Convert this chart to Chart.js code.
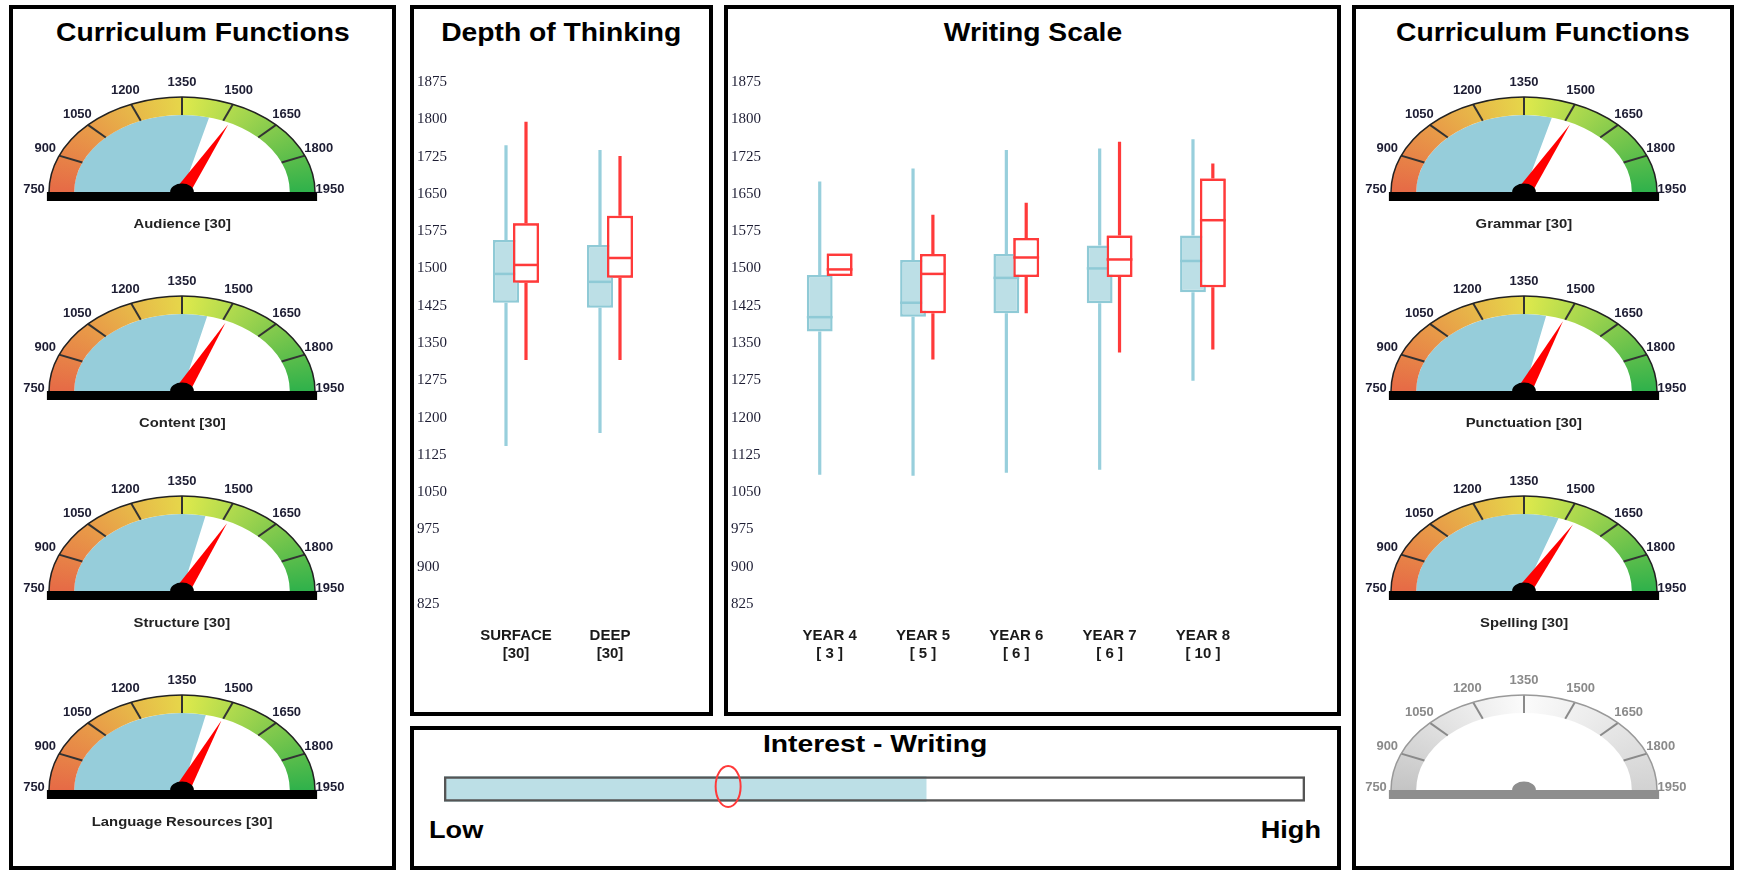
<!DOCTYPE html>
<html>
<head>
<meta charset="utf-8">
<script src="https://cdn.jsdelivr.net/npm/chart.js@4.4.1/dist/chart.umd.min.js"></script>
<style>
  body { margin: 0; background: #fff; width: 1738px; height: 872px; overflow: hidden; position: relative; font-family: 'Liberation Sans', Arial, sans-serif; }
  .panel { position: absolute; box-sizing: border-box; border: 4px solid #000; }
  .title { position: absolute; text-align: center; font-weight: bold; font-size: 25px; line-height: 30px; color: #000; white-space: nowrap; }
  .title span { display: inline-block; transform: scaleX(1.13); }
  .cap { position: absolute; width: 300px; text-align: center; font-weight: bold; font-size: 13.5px; line-height: 16px; color: #222; white-space: nowrap; }
  .cap span { display: inline-block; transform: scaleX(1.1); }
  .box { position: absolute; }
  .gauge { position: absolute; width: 340px; height: 145px; }
  .lowhigh { position: absolute; font-weight: bold; font-size: 24px; line-height: 28px; color: #000; }
</style>
</head>
<body>
<div class="panel" style="left:9px;top:5px;width:387px;height:865px"></div>
<div class="panel" style="left:410px;top:5px;width:303px;height:711px"></div>
<div class="panel" style="left:724px;top:5px;width:617px;height:711px"></div>
<div class="panel" style="left:410px;top:726px;width:931px;height:144px"></div>
<div class="panel" style="left:1352px;top:5px;width:382px;height:865px"></div>

<div class="title" style="left:9px;width:387px;top:17px"><span>Curriculum Functions</span></div>
<div class="title" style="left:410px;width:303px;top:17px"><span>Depth of Thinking</span></div>
<div class="title" style="left:724px;width:617px;top:17px"><span>Writing Scale</span></div>
<div class="title" style="left:1352px;width:382px;top:17px"><span>Curriculum Functions</span></div>
<div class="title" style="left:410px;width:931px;top:729px;font-size:24px"><span style="transform:scaleX(1.18)">Interest - Writing</span></div>
<div class="lowhigh" style="left:429px;top:816px;transform:scaleX(1.13);transform-origin:left">Low</div>
<div class="lowhigh" style="left:1221px;width:100px;text-align:right;top:816px;transform:scaleX(1.13);transform-origin:right">High</div>

<div class="box" style="left:417px;top:62px;width:240px;height:620px"><canvas id="depthChart"></canvas></div>
<div class="box" style="left:731px;top:62px;width:522px;height:620px"><canvas id="writingChart"></canvas></div>
<div class="box" style="left:444px;top:761px;width:861px;height:56px"><canvas id="interestChart"></canvas></div>

<script>
// gauge scale
const gaugeTicks = [750, 900, 1050, 1200, 1350, 1500, 1650, 1800, 1950];

// left column gauges
const leftGaugeNames = ['Audience [30]', 'Content [30]', 'Structure [30]', 'Language Resources [30]'];
const leftGaugeFill = [1447, 1440, 1434, 1435];
const leftGaugeNeedle = [1524, 1513, 1519, 1497];

// right column gauges (last one is empty)
const rightGaugeNames = ['Grammar [30]', 'Punctuation [30]', 'Spelling [30]', ''];
const rightGaugeFill = [1450, 1429, 1475, null];
const rightGaugeNeedle = [1523, 1495, 1535, null];

// box plots: [min, q1, median, q3, max]
const depthCategories = [['SURFACE', '[30]'], ['DEEP', '[30]']];
const depthBlue = [[1143, 1431, 1489, 1557, 1748], [1169, 1421, 1473, 1547, 1738]];
const depthRed = [[1316, 1471, 1507, 1591, 1795], [1316, 1481, 1521, 1606, 1726]];

const writingCategories = [['YEAR 4', '[ 3 ]'], ['YEAR 5', '[ 5 ]'], ['YEAR 6', '[ 6 ]'], ['YEAR 7', '[ 6 ]'], ['YEAR 8', '[ 10 ]']];
const writingBlue = [
    [1085, 1373, 1402, 1487, 1675],
    [1083, 1403, 1431, 1517, 1701],
    [1089, 1410, 1481, 1529, 1738],
    [1095, 1430, 1500, 1546, 1741],
    [1274, 1452, 1515, 1566, 1760]
];
const writingRed = [
    [1485, 1485, 1498, 1530, 1530],
    [1317, 1410, 1489, 1529, 1608],
    [1410, 1483, 1522, 1561, 1632],
    [1331, 1483, 1518, 1566, 1755],
    [1337, 1462, 1597, 1681, 1711]
];
const scoreAxis = [825, 1875, 75]; // min, max, step

// interest bar
const interestScale = [0, 100];
const interestLevel = [56];
const interestMarker = [33];

Chart.defaults.font.family = "'Liberation Sans', Arial, sans-serif";
Chart.defaults.animation = false;

const GAUGE_R = 95;
const GAUGE_STRETCH = 1.4;

const colourStops = [
    [0, '#e66a46'], [0.125, '#e89c48'], [0.2495, '#e6d64a'], [0.2505, '#dfe94c'],
    [0.3125, '#b2db4e'], [0.375, '#86cb4d'], [0.4375, '#5abd4b'], [0.5, '#2fb14b'], [1, '#2fb14b']
];
const greyStops = [[0, '#c4c4c4'], [0.25, '#fbfbfb'], [0.5, '#d2d2d2'], [1, '#d2d2d2']];

function bandGradient(stops) {
    return function(context) {
        const chart = context.chart;
        const a = chart.chartArea;
        if (!a) return stops[0][1];
        const cx = (a.left + a.right) / 2;
        const cy = (a.top + a.bottom) / 2 + GAUGE_R / 2;
        let g;
        if (chart.ctx.createConicGradient) {
            g = chart.ctx.createConicGradient(Math.PI, cx, cy);
            stops.forEach(s => g.addColorStop(s[0], s[1]));
        } else {
            g = chart.ctx.createLinearGradient(cx - GAUGE_R, 0, cx + GAUGE_R, 0);
            stops.filter(s => s[0] <= 0.5).forEach(s => g.addColorStop(s[0] * 2, s[1]));
        }
        return g;
    };
}

// draws the stretch, needle, hub, base, ticks and labels of one gauge
function gaugeDecor(set) {
    return {
        id: 'gaugeDecor',
        beforeDatasetsDraw(chart) {
            const arc = chart.getDatasetMeta(0).data[0];
            const ctx = chart.ctx;
            ctx.save();
            ctx.translate(arc.x, arc.y);
            ctx.scale(GAUGE_STRETCH, 1);
            ctx.translate(-arc.x, -arc.y);
        },
        afterDatasetsDraw(chart) {
            const ctx = chart.ctx;
            const band = chart.getDatasetMeta(0);
            const arcs = band.data;
            const cx = arcs[0].x, cy = arcs[0].y;
            const R = arcs[0].outerRadius, r = arcs[0].innerRadius;
            const a0 = arcs[0].startAngle, a1 = arcs[arcs.length - 1].endAngle;

            if (set.needle) {
                const a = a0 + (set.needle - gaugeTicks[0]) / band.total * (a1 - a0);
                const len = R * 0.79, w = 5.5;
                ctx.fillStyle = '#ff0000';
                ctx.beginPath();
                ctx.moveTo(cx + len * Math.cos(a), cy + len * Math.sin(a));
                ctx.lineTo(cx + w * Math.cos(a + Math.PI / 2), cy + w * Math.sin(a + Math.PI / 2));
                ctx.lineTo(cx - w * Math.cos(a + Math.PI / 2), cy - w * Math.sin(a + Math.PI / 2));
                ctx.closePath();
                ctx.fill();
            }
            ctx.fillStyle = set.hub;
            ctx.beginPath();
            ctx.arc(cx, cy, 8.5, Math.PI, 2 * Math.PI);
            ctx.closePath();
            ctx.fill();
            ctx.fillRect(cx - R - 1.5, cy, 2 * R + 3, 9);
            ctx.restore();

            const sx = GAUGE_STRETCH;
            ctx.save();
            ctx.strokeStyle = set.tick;
            ctx.lineWidth = 2;
            for (let i = 1; i < arcs.length; i++) {
                const a = arcs[i].startAngle;
                ctx.beginPath();
                ctx.moveTo(cx + sx * r * Math.cos(a), cy + r * Math.sin(a));
                ctx.lineTo(cx + sx * R * Math.cos(a), cy + R * Math.sin(a));
                ctx.stroke();
            }
            ctx.strokeStyle = set.outline;
            ctx.lineWidth = 1.5;
            ctx.beginPath();
            ctx.ellipse(cx, cy, sx * R, R, 0, Math.PI, 2 * Math.PI);
            ctx.stroke();

            ctx.fillStyle = set.label;
            ctx.font = "bold 12px 'Liberation Sans', Arial, sans-serif";
            ctx.textAlign = 'center';
            ctx.textBaseline = 'middle';
            const angles = arcs.map(e => e.startAngle).concat([a1]);
            gaugeTicks.forEach((t, i) => {
                const a = angles[i];
                const x = cx + (sx * R + 15) * Math.cos(a);
                const y = cy + (R + 12) * Math.sin(a) - 2;
                ctx.save();
                ctx.translate(x, y);
                ctx.scale(1.08, 1);
                ctx.fillText(String(t), 0, 0);
                ctx.restore();
            });
            ctx.restore();
        }
    };
}

function makeGauge(cx, baseY, fill, needle, caption) {
    const grey = fill == null;
    const wrap = document.createElement('div');
    wrap.className = 'gauge';
    wrap.style.left = (cx - 170) + 'px';
    wrap.style.top = (baseY - 120) + 'px';
    const canvas = document.createElement('canvas');
    wrap.appendChild(canvas);
    document.body.appendChild(wrap);

    if (caption) {
        const cap = document.createElement('div');
        cap.className = 'cap';
        cap.style.left = (cx - 150) + 'px';
        cap.style.top = (baseY + 24) + 'px';
        cap.innerHTML = '<span>' + caption + '</span>';
        document.body.appendChild(cap);
    }

    const lo = gaugeTicks[0], hi = gaugeTicks[gaugeTicks.length - 1];
    const segments = gaugeTicks.slice(1).map((t, i) => t - gaugeTicks[i]);
    const filled = grey ? 0 : fill - lo;

    const chart = new Chart(canvas, {
        type: 'doughnut',
        data: {
            datasets: [
                { data: segments, backgroundColor: bandGradient(grey ? greyStops : colourStops), borderWidth: 0, weight: 18 },
                { data: [filled, hi - lo - filled], backgroundColor: ['#96cdda', 'rgba(0,0,0,0)'], borderWidth: 0, weight: 77 }
            ]
        },
        options: {
            responsive: true,
            maintainAspectRatio: false,
            events: [],
            rotation: -90,
            circumference: 180,
            cutout: 0,
            radius: GAUGE_R,
            layout: { padding: 0 },
            plugins: { legend: { display: false }, tooltip: { enabled: false } }
        },
        plugins: [gaugeDecor({
            needle: needle,
            hub: grey ? '#8e8e8e' : '#000',
            tick: grey ? '#8a8a8a' : '#333',
            outline: grey ? '#999' : '#222',
            label: grey ? '#8a8a8a' : '#1d1d33'
        })]
    });
    chart.update();
}

const gaugeBases = [192, 391, 591, 790];
gaugeBases.forEach((y, i) => {
    makeGauge(182, y, leftGaugeFill[i], leftGaugeNeedle[i], leftGaugeNames[i]);
    makeGauge(1524, y, rightGaugeFill[i], rightGaugeNeedle[i], rightGaugeNames[i]);
});

// whiskers and medians on top of the floating bars
const boxWhiskers = {
    id: 'boxWhiskers',
    afterDatasetsDraw(chart) {
        const ctx = chart.ctx;
        const y = chart.scales.y;
        chart.data.datasets.forEach((ds, di) => {
            const meta = chart.getDatasetMeta(di);
            if (ds.redraw) meta.data.forEach(el => el.draw(ctx));
            meta.data.forEach((el, i) => {
                const s = ds.stats[i];
                const x = el.x, half = el.width / 2;
                ctx.save();
                ctx.strokeStyle = ds.whisker;
                ctx.lineWidth = 3.2;
                ctx.beginPath();
                ctx.moveTo(x, y.getPixelForValue(s[0]));
                ctx.lineTo(x, y.getPixelForValue(s[1]));
                ctx.moveTo(x, y.getPixelForValue(s[3]));
                ctx.lineTo(x, y.getPixelForValue(s[4]));
                ctx.stroke();
                ctx.strokeStyle = ds.borderColor;
                ctx.lineWidth = 2.5;
                const my = y.getPixelForValue(s[2]);
                ctx.beginPath();
                ctx.moveTo(x - half, my);
                ctx.lineTo(x + half, my);
                ctx.stroke();
                ctx.restore();
            });
        });
    }
};

function makeBoxChart(id, categories, blue, red) {
    new Chart(document.getElementById(id), {
        type: 'bar',
        data: {
            labels: categories,
            datasets: [
                {
                    data: blue.map(s => [s[1], s[3]]), stats: blue,
                    backgroundColor: '#bcdfe6', borderColor: '#8fcad6', borderWidth: 2.5, borderSkipped: false,
                    whisker: '#98cfdc', categoryPercentage: 40 / 94, barPercentage: 1.3
                },
                {
                    data: red.map(s => [s[1], s[3]]), stats: red,
                    backgroundColor: '#ffffff', borderColor: '#ff3a3a', borderWidth: 2.5, borderSkipped: false,
                    whisker: '#ff3a3a', redraw: true, categoryPercentage: 40 / 94, barPercentage: 1.3
                }
            ]
        },
        options: {
            responsive: true,
            maintainAspectRatio: false,
            events: [],
            layout: { padding: { top: 20, left: 0, right: 0, bottom: 0 } },
            plugins: { legend: { display: false }, tooltip: { enabled: false } },
            scales: {
                x: {
                    grid: { display: false, drawTicks: false },
                    border: { display: false },
                    ticks: { padding: 23, color: '#1a1a1a', font: { size: 15, weight: 'bold' } },
                    afterFit: s => { s.height = 78; }
                },
                y: {
                    min: scoreAxis[0],
                    max: scoreAxis[1],
                    grid: { display: false, drawTicks: false },
                    border: { display: false },
                    ticks: {
                        stepSize: scoreAxis[2],
                        crossAlign: 'far',
                        color: '#1d1d33',
                        font: { family: "'Liberation Serif', 'Times New Roman', serif", size: 15 },
                        callback: v => String(v)
                    },
                    afterFit: s => { s.width = 52; }
                }
            }
        },
        plugins: [boxWhiskers]
    });
}

makeBoxChart('depthChart', depthCategories, depthBlue, depthRed);
makeBoxChart('writingChart', writingCategories, writingBlue, writingRed);

// red ring marking the position on the interest bar
const interestRing = {
    id: 'interestRing',
    afterDatasetsDraw(chart) {
        const ctx = chart.ctx;
        const bar = chart.getDatasetMeta(0).data[0];
        const x = chart.scales.x.getPixelForValue(interestMarker[0]);
        ctx.save();
        ctx.strokeStyle = '#ff3a3a';
        ctx.lineWidth = 2;
        ctx.beginPath();
        ctx.ellipse(x, bar.y - 2.5, 12.5, 20.5, 0, 0, 2 * Math.PI);
        ctx.stroke();
        ctx.restore();
    }
};

new Chart(document.getElementById('interestChart'), {
    type: 'bar',
    data: {
        labels: ['Interest - Writing'],
        datasets: [
            { data: interestLevel, backgroundColor: '#bcdfe6', borderWidth: 0, barThickness: 25, grouped: false, order: 1 },
            { data: interestLevel.map(() => interestScale[1]), backgroundColor: 'rgba(0,0,0,0)', borderColor: '#555', borderWidth: 2, borderSkipped: false, barThickness: 25, grouped: false, order: 0 }
        ]
    },
    options: {
        indexAxis: 'y',
        responsive: true,
        maintainAspectRatio: false,
        events: [],
        layout: { padding: 0 },
        plugins: { legend: { display: false }, tooltip: { enabled: false } },
        scales: {
            x: { min: interestScale[0], max: interestScale[1], display: false },
            y: { display: false }
        }
    },
    plugins: [interestRing]
});
</script>
</body>
</html>
